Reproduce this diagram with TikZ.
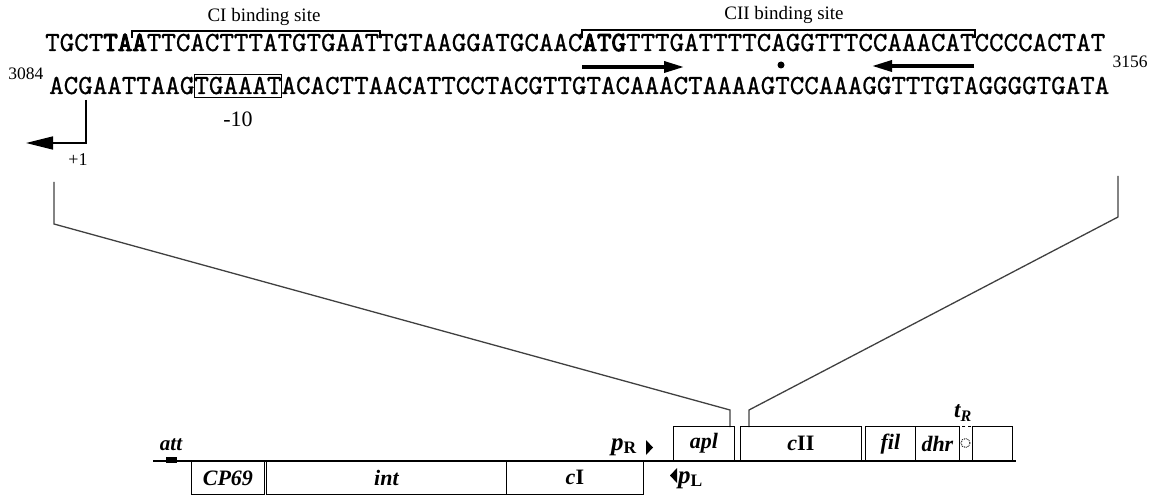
\documentclass[tikz,border=0pt]{standalone}
\usepackage{fontspec}
\setmainfont{Liberation Serif}
\newfontfamily\seqfont{lmmono10-regular.otf}[FakeBold=0.8, BoldFont=lmmono10-regular.otf, BoldFeatures={FakeBold=3.5}]
\usetikzlibrary{arrows.meta}
\tikzset{
  seq/.style={anchor=base west, inner sep=0pt, font=\seqfont\fontsize{27.66}{27.66}\selectfont},
  lbl/.style={inner sep=0pt, font=\fontsize{19}{19}\selectfont},
  num/.style={inner sep=0pt, font=\fontsize{17.5}{17.5}\selectfont},
  genebox/.style={draw, line width=0.8pt, inner sep=0pt, font=\fontsize{22}{22}\selectfont\bfseries\itshape},
  lens/.style={line width=1.3pt, draw=black!75},
  bracket/.style={line width=1.2pt},
  motif/.style={line width=3.5pt, -{Triangle[length=20pt,width=11pt]}},
}
\begin{document}
\begin{tikzpicture}[x=1pt,y=-1pt]
\useasboundingbox (0,0) rectangle (1159,497);
% sequence
\node[seq] (top) at (45,51) {TGCT\textbf{TAA}TTCACTTTATGTGAATTGTAAGGATGCAAC\textbf{ATG}TTTGATTTTCAGGTTTCCAAACATCCCCACTAT};
\node[seq] (bot) at (49,94) {ACGAATTAAGTGAAATACACTTAACATTCCTACGTTGTACAAACTAAAAGTCCAAAGGTTTGTAGGGGTGATA};
\node[num] (n3084) at (26,74) {3084};
\node[num] (n3156) at (1130,62) {3156};
% CI binding site
\draw[bracket] (132,38) -- (132,31) -- (380,31) -- (380,38);
\node[lbl] (ci) at (264,17) {CI binding site};
% CII binding site
\draw[bracket] (582,38) -- (582,30) -- (975,30) -- (975,38);
\node[lbl] (cii) at (784,15) {CII binding site};
% inverted repeat arrows
\coordinate (r1) at (582,67); \coordinate (r2) at (684,67);
\coordinate (l1) at (974,66); \coordinate (l2) at (872,66);
\draw[motif] (r1) -- (r2);
\draw[motif] (l1) -- (l2);
\fill (781,65) circle (3.5);
% -10 box
\node[draw, line width=1pt, minimum width=87pt, minimum height=23pt, inner sep=0pt, anchor=west] (m10) at (194.2,86) {};
\node[lbl, font=\fontsize{22}{22}\selectfont] (m10l) at (238,119) {-10};
% +1 arrow
\coordinate (tss) at (86,100);
\coordinate (tsc) at (86,143);
\coordinate (tse) at (26,143);
\draw[line width=1.6pt, -{Triangle[length=27pt,width=13pt]}] (tss) -- (tsc) -- (tse);
\node[num, font=\fontsize{18}{18}\selectfont] (p1) at (78,160) {+1};
% lens lines
\coordinate (a1) at (54,182); \coordinate (a2) at (54,224); \coordinate (a3) at (730,410); \coordinate (a4) at (730,427);
\coordinate (b1) at (1118,176); \coordinate (b2) at (1118,217); \coordinate (b3) at (749,410); \coordinate (b4) at (749,427);
\draw[lens] (a1) -- (a2) -- (a3) -- (a4);
\draw[lens] (b1) -- (b2) -- (b3) -- (b4);
% genome map
\coordinate (bb1) at (153,461); \coordinate (bb2) at (1016,461);
\node[genebox, minimum width=73pt, minimum height=33pt, anchor=north west] (cp69) at (191,461) {CP69};
\node[genebox, minimum width=240pt, minimum height=33pt, anchor=north west] (int) at (266,461) {int};
\node[genebox, minimum width=137pt, minimum height=33pt, anchor=north west] (cI) at (506,461) {c\textup{I}};
\node[genebox, minimum width=61pt, minimum height=34pt, anchor=south west] (apl) at (673,461) {apl};
\node[genebox, minimum width=121pt, minimum height=34pt, anchor=south west] (cII) at (740,461) {c\textup{II}};
\node[genebox, minimum width=50pt, minimum height=34pt, anchor=south west] (fil) at (865,461) {fil};
\node[genebox, minimum width=44pt, minimum height=34pt, anchor=south west] (dhr) at (915,461) {dhr};
\node[draw, dashed, line width=0.8pt, minimum width=13pt, minimum height=34pt, inner sep=0pt, anchor=south west] (tr) at (959,461) {};
\draw[densely dotted, line width=0.9pt] (965.5,443) circle (4.5);
\node[genebox, minimum width=40pt, minimum height=34pt, anchor=south west] (last) at (972,461) {};
\draw[line width=2pt] (bb1) -- (bb2);
\fill (166,457) rectangle (177,463);
\node[lbl, font=\fontsize{21}{21}\selectfont\bfseries\itshape] (att) at (171,445) {att};
\node[lbl, font=\fontsize{25}{25}\selectfont\bfseries, anchor=east] (pR) at (637,447) {\textit{p}\textsubscript{R}};
\fill (646,440) -- (653,447.5) -- (646,455) -- cycle;
\fill (677,468) -- (670,475.5) -- (677,483) -- cycle;
\node[lbl, font=\fontsize{25}{25}\selectfont\bfseries, anchor=west] (pL) at (678,480) {\textit{p}\textsubscript{L}};
\node[lbl, font=\fontsize{23}{23}\selectfont\bfseries\itshape] (tR) at (963,413) {t\textsubscript{R}};
\end{tikzpicture}
\end{document}
